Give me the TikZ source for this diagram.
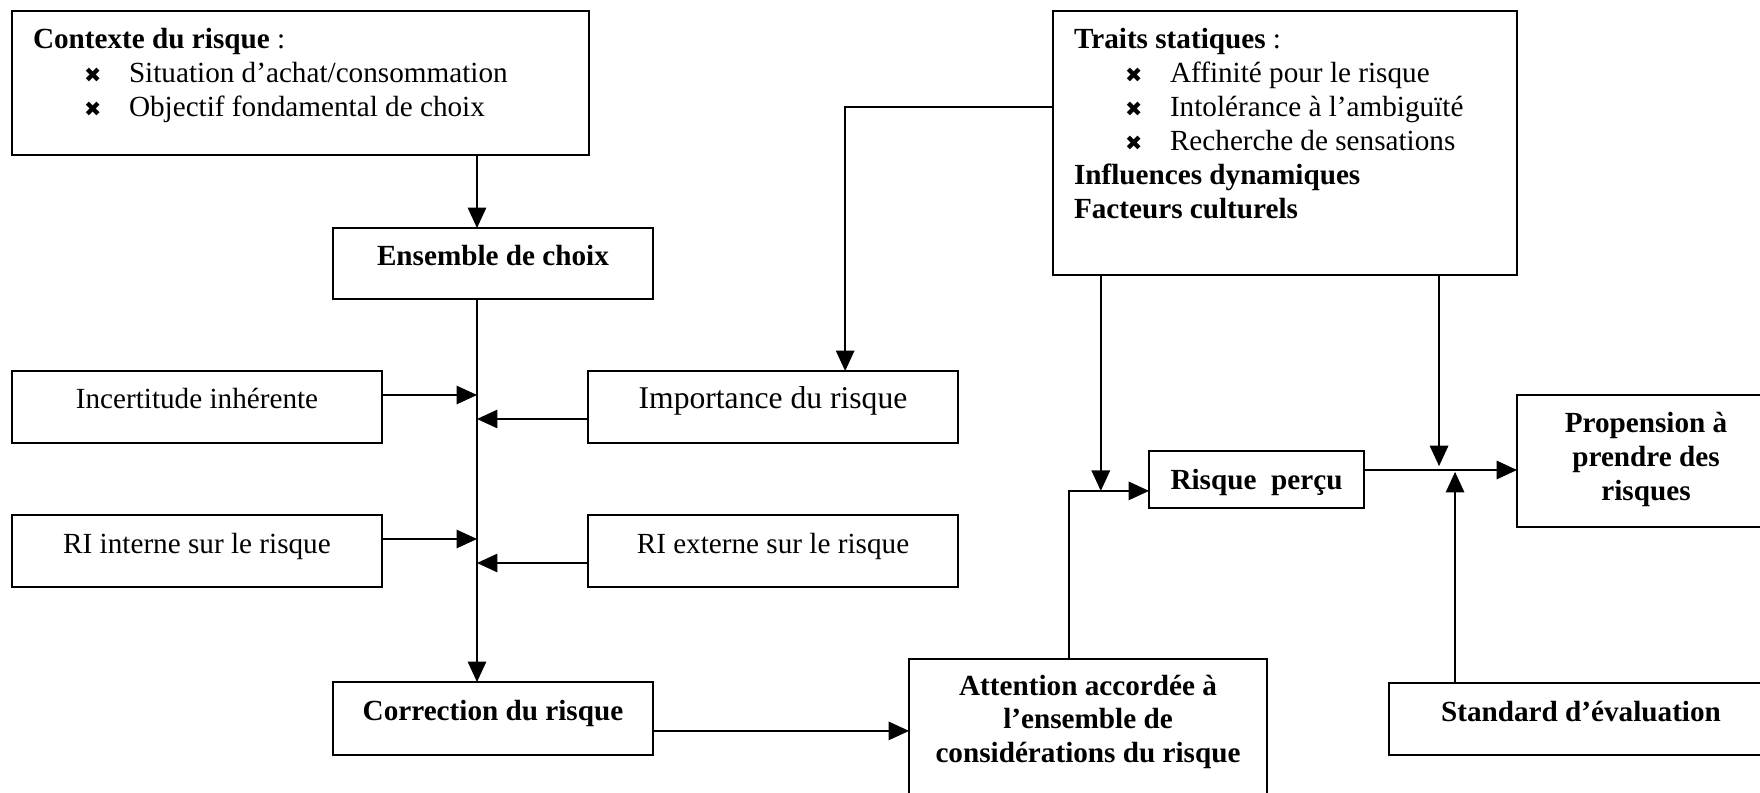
\documentclass[tikz,border=0pt]{standalone}
\usepackage{fontspec}
\setmainfont{Liberation Serif}
\newfontfamily\symfont{DejaVu Sans}
\usetikzlibrary{arrows.meta,calc}

\newdimen\pxlen \pxlen=0.411pt
\newcommand\mk{{\symfont\fontsize{8.5}{8.5}\selectfont ✖}}
\newcommand\itm[1]{\hspace*{72\pxlen}\makebox[45\pxlen][l]{\mk}#1}
\newcommand\ttl[1]{\hspace*{21\pxlen}\textbf{#1}}
\newcommand\cbox[4][38]{\parbox[t][#3\pxlen][t]{#2\pxlen}{\centering\rule{0pt}{#1\pxlen}#4\par}}
\newcommand\lbox[4][38]{\parbox[t][#3\pxlen][t]{#2\pxlen}{\raggedright\rule{0pt}{#1\pxlen}#4\par}}

\tikzset{
  bx/.style={draw, line width=0.75pt, inner sep=0pt, outer sep=0pt, anchor=north west,
    font=\fontsize{12}{13.9}\selectfont},
  arr/.style={line width=0.6pt, -{Triangle[length=8.4pt,width=7.6pt]}}
}

\begin{document}
\begin{tikzpicture}[x=0.411pt, y=-0.411pt]
\useasboundingbox (0,0) rectangle (1760,793);

% boxes
\node[bx] (ctx) at (12,11) {\lbox{577}{144}{\ttl{Contexte du risque} :\\
  \itm{Situation d’achat/consommation}\\
  \itm{Objectif fondamental de choix}}};
\node[bx] (ens) at (333,228) {\cbox{320}{71}{\bfseries Ensemble de choix}};
\node[bx] (trs) at (1053,11) {\lbox{464}{264}{\ttl{Traits statiques} :\\
  \itm{Affinité pour le risque}\\
  \itm{Intolérance à l’ambiguïté}\\
  \itm{Recherche de sensations}\\
  \ttl{Influences dynamiques}\\
  \ttl{Facteurs culturels}}};
\node[bx] (inc) at (12,371) {\cbox{370}{72}{Incertitude inhérente}};
\node[bx, font=\fontsize{13}{15}\selectfont] (imp) at (588,371) {\cbox{370}{72}{Importance du risque}};
\node[bx] (rii) at (12,515) {\cbox{370}{72}{RI interne sur le risque}};
\node[bx] (rie) at (588,515) {\cbox{370}{72}{RI externe sur le risque}};
\node[bx] (cor) at (333,682) {\cbox{320}{73}{\bfseries Correction du risque}};
\node[bx] (att) at (909,659) {\cbox[36]{358}{160}{\bfseries Attention accordée à\\
  l’ensemble de\\ considérations du risque}};
\node[bx] (rpc) at (1149,451) {\cbox{215}{57}{\bfseries Risque\ \ perçu}};
\node[bx] (prp) at (1517,395) {\cbox{258}{132}{\bfseries Propension à\\ prendre des\\ risques}};
\node[bx] (std) at (1389,683) {\cbox{384}{72}{\bfseries Standard d’évaluation}};

% connectors
\coordinate (tk) at (477,0);
\draw[arr] (ctx.south -| tk) -- (ens.north -| tk);
\draw[arr] (ens.south -| tk) -- (cor.north -| tk);
\coordinate (p1) at ($(inc.north east)!1/3!(inc.south east)$);
\coordinate (p2) at ($(imp.north west)!2/3!(imp.south west)$);
\coordinate (p3) at ($(rii.north east)!1/3!(rii.south east)$);
\coordinate (p4) at ($(rie.north west)!2/3!(rie.south west)$);
\draw[arr] (p1) -- (p1 -| tk);
\draw[arr] (p2) -- (p2 -| tk);
\draw[arr] (p3) -- (p3 -| tk);
\draw[arr] (p4) -- (p4 -| tk);

\coordinate (t1) at ($(trs.north west)!0.364!(trs.south west)$);
\coordinate (i1) at ($(imp.north west)!0.695!(imp.north east)$);
\draw[arr] (t1) -| (i1);

\coordinate (k1) at ($(cor.north east)!0.67!(cor.south east)$);
\draw[arr] (k1) -- (k1 -| att.west);

\coordinate (a1) at ($(att.north west)!0.447!(att.north east)$);
\coordinate (r1) at ($(rpc.north west)!0.70!(rpc.south west)$);
\draw[arr] (a1) |- (r1);
\coordinate (t2) at ($(trs.south west)!0.103!(trs.south east)$);
\draw[arr] (t2) -- (t2 |- r1);

\coordinate (r2) at ($(rpc.north east)!1/3!(rpc.south east)$);
\draw[arr] (r2) -- (r2 -| prp.west);
\coordinate (t3) at ($(trs.south west)!0.832!(trs.south east)$);
\draw[arr, shorten >=1.6pt] (t3) -- (t3 |- r2);
\coordinate (s1) at ($(std.north west)!0.172!(std.north east)$);
\draw[arr, shorten >=0.8pt] (s1) -- (s1 |- r2);
\end{tikzpicture}
\end{document}
